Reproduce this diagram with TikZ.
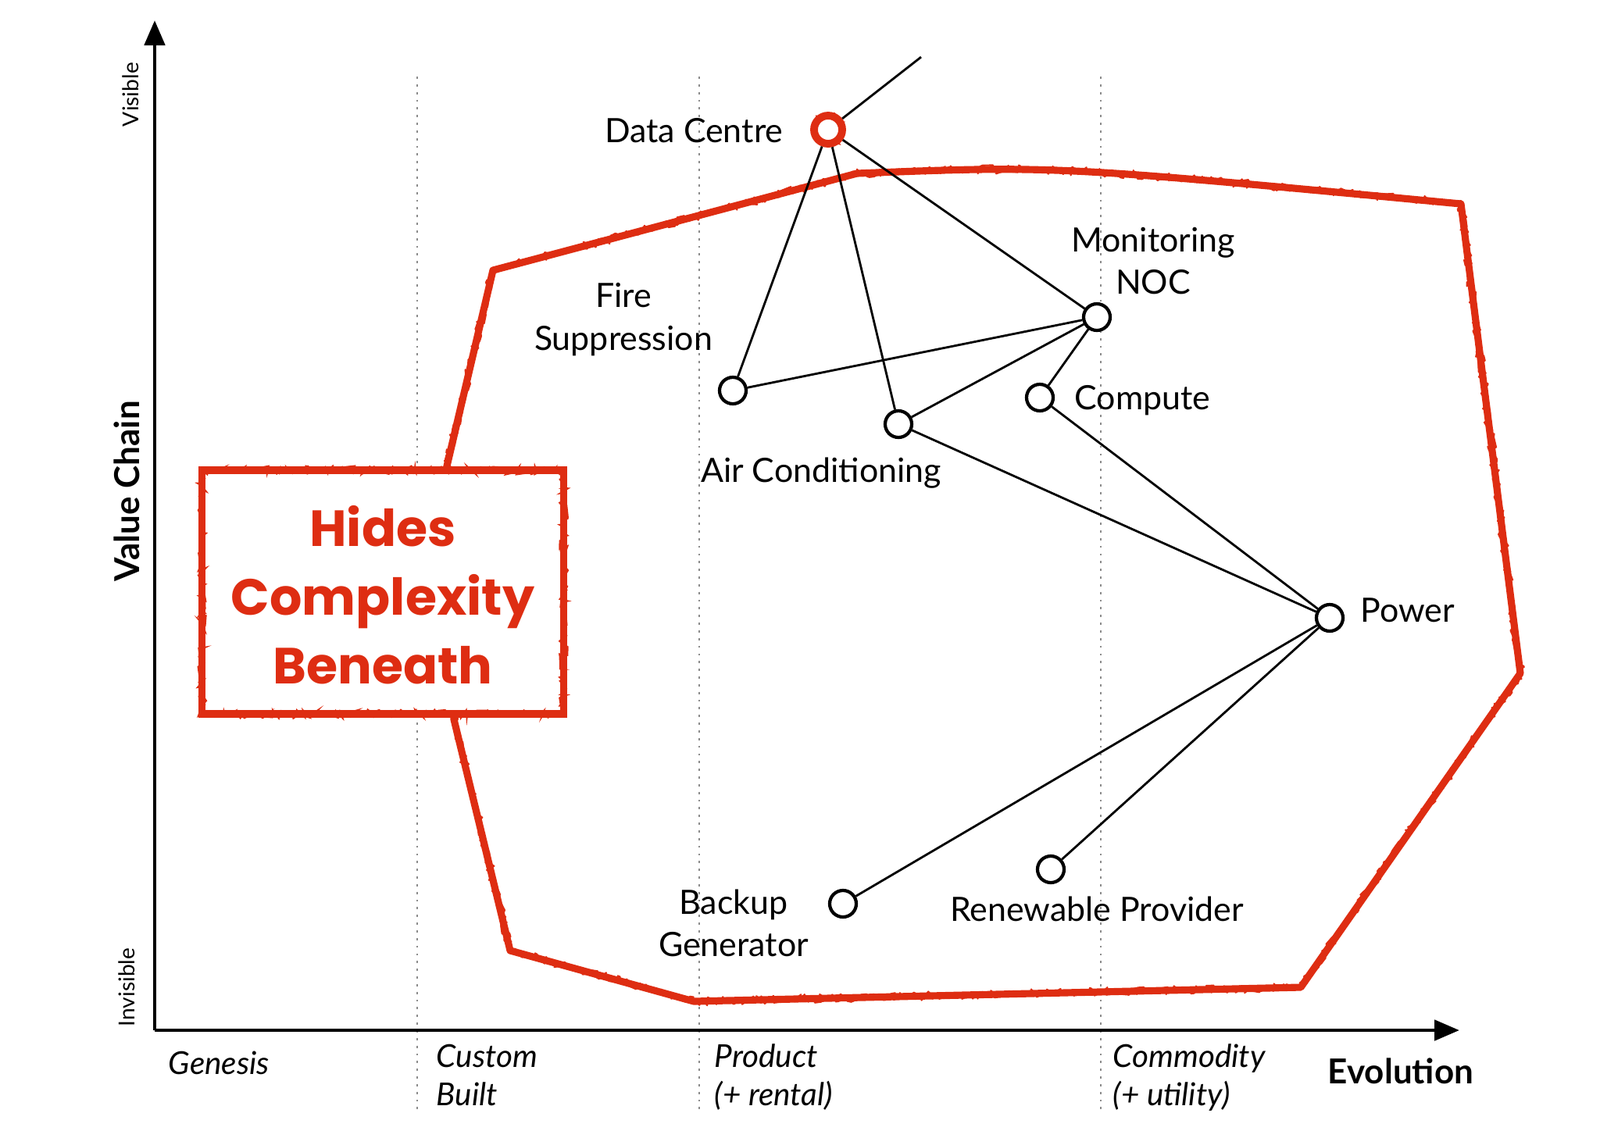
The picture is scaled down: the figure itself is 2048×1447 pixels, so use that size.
\documentclass[tikz,border=0pt]{standalone}
\usepackage{fontspec}
\setmainfont{Lato}
\newfontfamily\handfont{Poppins}
\usetikzlibrary{arrows.meta}
\usetikzlibrary{decorations.pathmorphing}
\definecolor{roughred}{RGB}{222,45,18}
\tikzset{
	compstyle/.style={circle,draw=black,line width=1.2pt,fill=white,minimum size=0.34cm,inner sep=0pt},
	hotstyle/.style={circle,draw=roughred,line width=2.8pt,fill=white,minimum size=0.36cm,inner sep=0pt,
		postaction={draw=roughred,line width=0.7pt,decorate,decoration={random steps,segment length=1.5pt,amplitude=1.1pt}}},
	labelstyle/.style={align=center,inner sep=0pt,font=\fontsize{12.2}{15.5}\selectfont},
	stagestyle/.style={align=left,anchor=north west,inner sep=0pt,font=\fontsize{11.5}{14}\selectfont\itshape},
	axislabelstyle/.style={inner sep=0pt,font=\fontsize{12.5}{15}\selectfont\bfseries},
	linkstyle/.style={draw=black,line width=0.8pt},
	axisstyle/.style={line width=1.4pt,-{Triangle[length=0.32cm,width=0.26cm]}},
	gridstyle/.style={draw=black!45,line width=0.6pt,dash pattern=on 0.8pt off 2pt},
	roughstyle/.style={draw=roughred,line width=2.6pt,line join=round,
		postaction={draw=roughred,line width=0.6pt,decorate,decoration={random steps,segment length=1pt,amplitude=1.6pt}}}
}

\begin{document}
\begin{tikzpicture}[x=0.01cm,y=-0.01cm]
	\useasboundingbox (0,0) rectangle (2048,1447);
	% stages of evolution
	\draw[gridstyle] (534,98) -- (534,1424);
	\draw[gridstyle] (895,98) -- (895,1424);
	\draw[gridstyle] (1409,98) -- (1409,1424);
	% axes
	\coordinate (origin) at (198,1319);
	\coordinate (ytop) at (198,26);
	\coordinate (xend) at (1868,1319);
	\draw[axisstyle] (origin) -- (ytop);
	\draw[axisstyle] (origin) -- (xend);
	\node[rotate=90,inner sep=0pt,font=\fontsize{8}{9}\selectfont] (visible) at (167,121) {Visible};
	\node[rotate=90,inner sep=0pt,font=\fontsize{8}{9}\selectfont] (invisible) at (162,1264) {Invisible};
	\node[axislabelstyle,rotate=90] (valuechain) at (162,629) {Value Chain};
	\node[axislabelstyle] (evolution) at (1793,1371) {Evolution};
	\node[stagestyle] (genesis) at (215,1345) {Genesis};
	\node[stagestyle] (custom) at (558,1336) {Custom\\Built};
	\node[stagestyle] (product) at (914,1336) {Product\\(+ rental)};
	\node[stagestyle] (commodity) at (1424,1336) {Commodity\\(+ utility)};
	% boundary
	\draw[roughstyle] (631,346) -- (1097,222) .. controls (1350,212) .. (1870,261) -- (1946,862)
		-- (1665,1264) -- (888,1282) -- (653,1217) -- (581,921) -- (571,601) -- cycle;
	\node[draw=roughred,line width=2.7pt,fill=white,minimum width=4.63cm,minimum height=3.12cm,
		postaction={draw=roughred,line width=0.6pt,decorate,decoration={random steps,segment length=1pt,amplitude=1.6pt}}] (hidebox) at (490,758) {};
	\node[align=center,text=roughred,font=\handfont\bfseries\fontsize{18.5}{25}\selectfont] (hidetext) at (490,762) {Hides\\Complexity\\Beneath};
	% components
	\coordinate (up) at (1179,73);
	\node[compstyle] (fire) at (938,500) {};
	\node[compstyle] (air) at (1150,543) {};
	\node[compstyle] (noc) at (1404,406) {};
	\node[compstyle] (compute) at (1331,509) {};
	\node[compstyle] (power) at (1702,791) {};
	\node[compstyle] (backup) at (1079,1157) {};
	\node[compstyle] (renew) at (1345,1113) {};
	\node[hotstyle] (dc) at (1060,166) {};
	\draw[linkstyle] (dc) -- (up);
	\draw[linkstyle] (dc) -- (fire);
	\draw[linkstyle] (dc) -- (air);
	\draw[linkstyle] (dc) -- (noc);
	\draw[linkstyle] (fire) -- (noc);
	\draw[linkstyle] (air) -- (noc);
	\draw[linkstyle] (compute) -- (noc);
	\draw[linkstyle] (air) -- (power);
	\draw[linkstyle] (compute) -- (power);
	\draw[linkstyle] (backup) -- (power);
	\draw[linkstyle] (renew) -- (power);
	% labels
	\node[labelstyle,anchor=east] (dclabel) at (1003,167) {Data Centre};
	\node[labelstyle] (firelabel) at (798,409) {Fire\\Suppression};
	\node[labelstyle] (airlabel) at (1051,606) {Air Conditioning};
	\node[labelstyle] (noclabel) at (1476,334) {Monitoring\\NOC};
	\node[labelstyle,anchor=west] (computelabel) at (1375,513) {Compute};
	\node[labelstyle,anchor=west] (powerlabel) at (1741,781) {Power};
	\node[labelstyle] (backuplabel) at (939,1182) {Backup\\Generator};
	\node[labelstyle] (renewlabel) at (1404,1164) {Renewable Provider};
\end{tikzpicture}
\end{document}
